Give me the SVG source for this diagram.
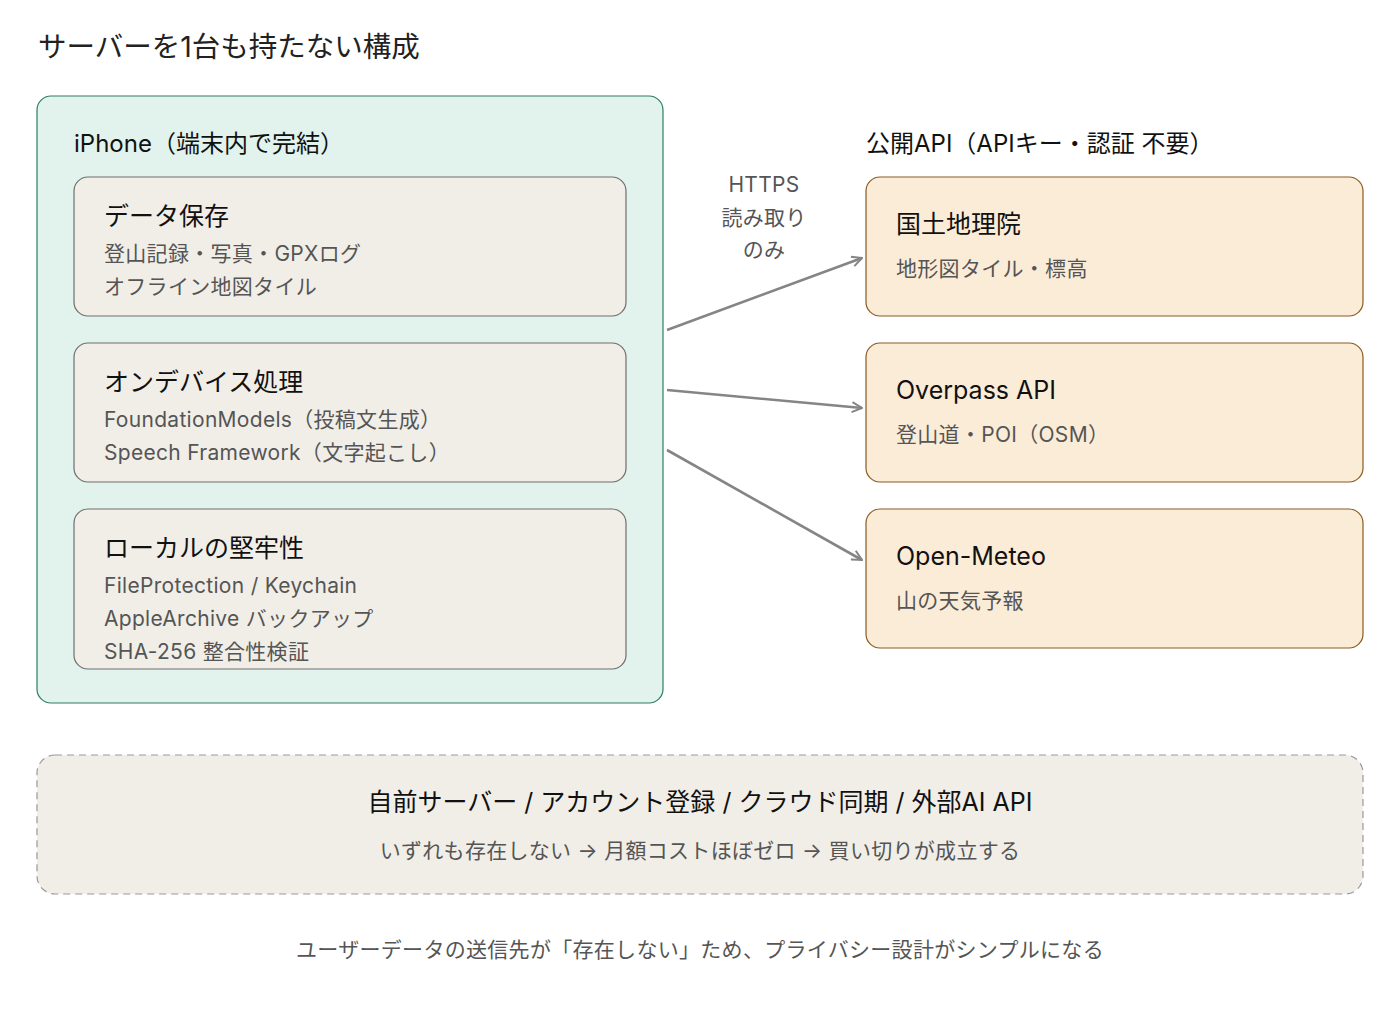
<svg xmlns="http://www.w3.org/2000/svg" width="1400" height="1031" viewBox="0 0 1400 1031">
<defs>
<style>
text{font-family:Inter,"Noto Sans CJK JP","Noto Sans",sans-serif;}
.t{font-size:25px;fill:#111;}
.s{font-size:21px;fill:#555;letter-spacing:0.3px;}
.inner{fill:#f1eee8;stroke:#6e6e6e;stroke-width:1.2;}
.api{fill:#fbecd8;stroke:#8a5a1e;stroke-width:1.2;}
.c{stroke:#858585;stroke-width:2.6;fill:none;marker-end:url(#ah);}
</style>
<marker id="ah" viewBox="0 0 12 12" refX="11" refY="6" markerWidth="12" markerHeight="12" markerUnits="userSpaceOnUse" orient="auto"><path d="M1,1 L11,6 L1,11" fill="none" stroke="#858585" stroke-width="2"/></marker>
</defs>
<rect width="1400" height="1031" fill="#fff"/>
<text x="38" y="57" style="font-size:28.5px;fill:#222">サーバーを1台も持たない構成</text>
<g id="iphone">
<rect x="37" y="96" width="626" height="607" rx="14" fill="#e1f3ec" stroke="#2e7d5f" stroke-width="1.2"/>
<text x="74" y="152" style="font-size:24px;fill:#111">iPhone（端末内で完結）</text>
</g>
<g id="storage">
<rect class="inner" x="74" y="177" width="552" height="139" rx="14"/>
<text class="t" x="104" y="225">データ保存</text>
<text class="s" x="104" y="261">登山記録・写真・GPXログ</text>
<text class="s" x="104" y="294">オフライン地図タイル</text>
</g>
<g id="ondevice">
<rect class="inner" x="74" y="343" width="552" height="139" rx="14"/>
<text class="t" x="104" y="391">オンデバイス処理</text>
<text class="s" x="104" y="427">FoundationModels（投稿文生成）</text>
<text class="s" x="104" y="460">Speech Framework（文字起こし）</text>
</g>
<g id="local">
<rect class="inner" x="74" y="509" width="552" height="160" rx="14"/>
<text class="t" x="104" y="557">ローカルの堅牢性</text>
<text class="s" x="104" y="593">FileProtection / Keychain</text>
<text class="s" x="104" y="626">AppleArchive バックアップ</text>
<text class="s" x="104" y="659">SHA-256 整合性検証</text>
</g>
<text x="866" y="152" style="font-size:24px;fill:#111">公開API（APIキー・認証 不要）</text>
<g id="gsi">
<rect class="api" x="866" y="177" width="497" height="139" rx="14"/>
<text class="t" x="896" y="233">国土地理院</text>
<text class="s" x="896" y="276">地形図タイル・標高</text>
</g>
<g id="overpass">
<rect class="api" x="866" y="343" width="497" height="139" rx="14"/>
<text class="t" x="896" y="399">Overpass API</text>
<text class="s" x="896" y="442">登山道・POI（OSM）</text>
</g>
<g id="meteo">
<rect class="api" x="866" y="509" width="497" height="139" rx="14"/>
<text class="t" x="896" y="565">Open-Meteo</text>
<text class="s" x="896" y="608">山の天気予報</text>
</g>
<g id="connectors">
<line class="c" x1="667" y1="330" x2="862" y2="258"/>
<line class="c" x1="667" y1="390" x2="862" y2="408"/>
<line class="c" x1="667" y1="450" x2="862" y2="560"/>
<text class="s" x="764" y="192" text-anchor="middle">HTTPS</text>
<text class="s" x="764" y="225" text-anchor="middle">読み取り</text>
<text class="s" x="764" y="257" text-anchor="middle">のみ</text>
</g>
<g id="absent">
<rect x="37" y="755" width="1326" height="139" rx="18" fill="#f1eee8" stroke="#999" stroke-width="1.2" stroke-dasharray="7,5"/>
<text class="t" x="700" y="811" text-anchor="middle">自前サーバー / アカウント登録 / クラウド同期 / 外部AI API</text>
<text class="s" x="700" y="858" text-anchor="middle">いずれも存在しない → 月額コストほぼゼロ → 買い切りが成立する</text>
</g>
<text class="s" x="700" y="957" text-anchor="middle">ユーザーデータの送信先が「存在しない」ため、プライバシー設計がシンプルになる</text>
</svg>
